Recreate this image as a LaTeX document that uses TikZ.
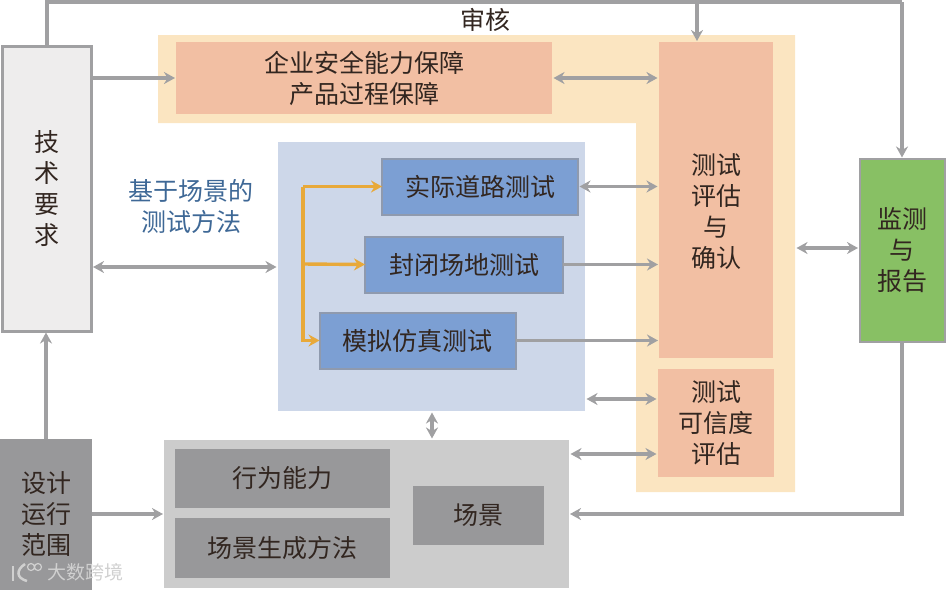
\documentclass[tikz,border=0pt]{standalone}
\usepackage{fontspec}
\setmainfont{Noto Sans CJK SC}
\usepackage{xcolor}
\definecolor{linegray}{RGB}{160,160,162}
\definecolor{techfill}{RGB}{238,237,237}
\definecolor{sandback}{RGB}{251,229,193}
\definecolor{salmonbox}{RGB}{242,191,163}
\definecolor{panelblue}{RGB}{205,215,233}
\definecolor{testblue}{RGB}{124,159,211}
\definecolor{testedge}{RGB}{143,154,174}
\definecolor{panelgray}{RGB}{204,204,204}
\definecolor{darkgray}{RGB}{152,152,154}
\definecolor{leafgreen}{RGB}{136,192,100}
\definecolor{flowgold}{RGB}{232,169,58}
\definecolor{labelblue}{RGB}{62,104,150}
\definecolor{bodytext}{RGB}{50,38,32}
\definecolor{marklight}{RGB}{208,208,208}
\usetikzlibrary{arrows.meta}

\begin{document}
\begin{tikzpicture}[
  x=1pt, y=-1pt,
  font=\fontsize{25}{31}\selectfont,
  % --- chart style ---------------------------------------------------
  box/.style={inner sep=0pt, outer sep=0pt, align=center, text=bodytext},
  techbox/.style={box, fill=techfill, draw=linegray, line width=2.5pt,
                  minimum width=89pt, minimum height=285pt},
  sidebox/.style={box, fill=darkgray},
  safebox/.style={box, fill=salmonbox},
  testbox/.style={box, fill=testblue, draw=testedge, line width=2pt,
                  minimum width=196pt, minimum height=56pt},
  graybox/.style={box, fill=darkgray},
  greenbox/.style={box, fill=leafgreen, draw=linegray, line width=2pt,
                   minimum width=85pt, minimum height=183pt},
  conn/.style={linegray, line width=3.4pt, -{Stealth[length=11pt,width=12pt]},
               shorten >=1pt},
  twoway/.style={linegray, line width=3.4pt,
                 {Stealth[length=11pt,width=12pt]}-{Stealth[length=11pt,width=12pt]},
                 shorten >=1.5pt, shorten <=1.5pt},
  flow/.style={flowgold, line width=3.4pt},
  % ---------------------------------------------------------------------
]
  \useasboundingbox (0,0) rectangle (947,590);

  % Backdrops
  \fill[sandback] (158,35) -- (795,35) -- (795,492) -- (636,492)
    -- (636,123) -- (158,123) -- cycle;
  \node[box, fill=panelblue, minimum width=307pt, minimum height=269pt] (testpanel) at (431.5,276.5) {};
  \node[box, fill=panelgray, minimum width=405pt, minimum height=148pt] (scenepanel) at (366.5,514) {};

  % Left column
  \node[techbox] (tech) at (47,189) {技\\术\\要\\求};
  \node[sidebox, minimum width=92pt, minimum height=151pt] (odd) at (46,514.5) {设计\\运行\\范围};

  % Assurance and evaluation
  \node[safebox, minimum width=376pt, minimum height=72pt] (safety) at (364,78) {企业安全能力保障\\产品过程保障};
  \node[safebox, minimum width=114pt, minimum height=316pt] (evaluate) at (716,200) {};
  \node[box] (evaluatetext) at (716,212) {测试\\评估\\与\\确认};
  \node[safebox, minimum width=116pt, minimum height=108pt] (credible) at (716,423) {测试\\可信度\\评估};

  % Test methods
  \node[testbox] (road) at (480,186.5) {实际道路测试};
  \node[testbox, minimum width=198pt] (closed) at (464,264.5) {封闭场地测试};
  \node[testbox] (simu) at (417.5,340.5) {模拟仿真测试};

  % Scenario
  \node[graybox, minimum width=215pt, minimum height=59pt] (behavior) at (282.5,478.5) {行为能力};
  \node[graybox, minimum width=215pt, minimum height=60pt] (generate) at (282.5,548) {场景生成方法};
  \node[graybox, minimum width=131pt, minimum height=59pt] (scene) at (478.5,515.5) {场景};

  % Right column and labels
  \node[greenbox] (monitor) at (902,250) {监测\\与\\报告};
  \node[box] (audit) at (485,20) {审核};
  \node[box, text=labelblue] (method) at (191,206) {基于场景的\\测试方法};

  % Watermark
  \node[box, text=marklight, font=\fontsize{19}{19}\selectfont, anchor=west] (mark) at (47,572) {大数跨境};
  \draw[marklight, line width=2.5pt] (13,566) -- (13,581);
  \draw[marklight, line width=2.5pt] (25,564) .. controls (16,570) and (16,578) .. (27,581);
  \draw[marklight, line width=1.2pt] (31,567) circle (3.5) (38,567) circle (3.5);

  % Free ends of the connectors
  \coordinate (topleft) at (47,2);
  \coordinate (topright) at (902,2);
  \coordinate (auditdrop) at (697,2);
  \coordinate (methodrow) at (0,267);
  \coordinate (panelrow) at (0,399);
  \coordinate (scenerow) at (0,454);
  \coordinate (monitorrow) at (795,248);
  \coordinate (returnrow) at (0,514);
  \coordinate (trunk) at (303,264);
  \coordinate (linkcol) at (432,0);

  % Connectors
  \draw[linegray, line width=3.4pt] (tech.north) -- (topleft) -- (topright);
  \draw[conn] (topright) -- (monitor.north);
  \draw[conn] (auditdrop) -- (auditdrop |- evaluate.north);
  \draw[conn] (tech.east |- safety.west) -- (safety.west);
  \draw[twoway] (safety.east) -- (safety.east -| evaluate.west);
  \draw[twoway] (tech.east |- methodrow) -- (testpanel.west |- methodrow);

  \draw[flow, -{Stealth[length=11pt,width=12pt]}] (trunk |- road.west) -- (road.west);
  \draw[flow, -{Stealth[length=11pt,width=12pt]}] (trunk) -- (closed.west);
  \draw[flow, -{Stealth[length=11pt,width=12pt]}] (trunk |- road.west) -- (trunk |- simu.west) -- (simu.west);

  \draw[twoway] (road.east) -- (road.east -| evaluate.west);
  \draw[conn] (closed.east) -- (closed.east -| evaluate.west);
  \draw[conn] (simu.east) -- (simu.east -| evaluate.west);
  \draw[twoway] (testpanel.east |- panelrow) -- (credible.west |- panelrow);
  \draw[twoway] (scenepanel.east |- scenerow) -- (credible.west |- scenerow);
  \draw[twoway] (linkcol |- testpanel.south) -- (linkcol |- scenepanel.north);
  \draw[twoway] (monitorrow) -- (monitor.west |- monitorrow);
  \draw[conn] (monitor.south) -- (monitor.south |- returnrow) -- (scenepanel.east |- returnrow);
  \draw[conn] (odd.north) -- (odd.north |- tech.south);
  \draw[conn] (odd.east |- returnrow) -- (scenepanel.west |- returnrow);
\end{tikzpicture}
\end{document}
